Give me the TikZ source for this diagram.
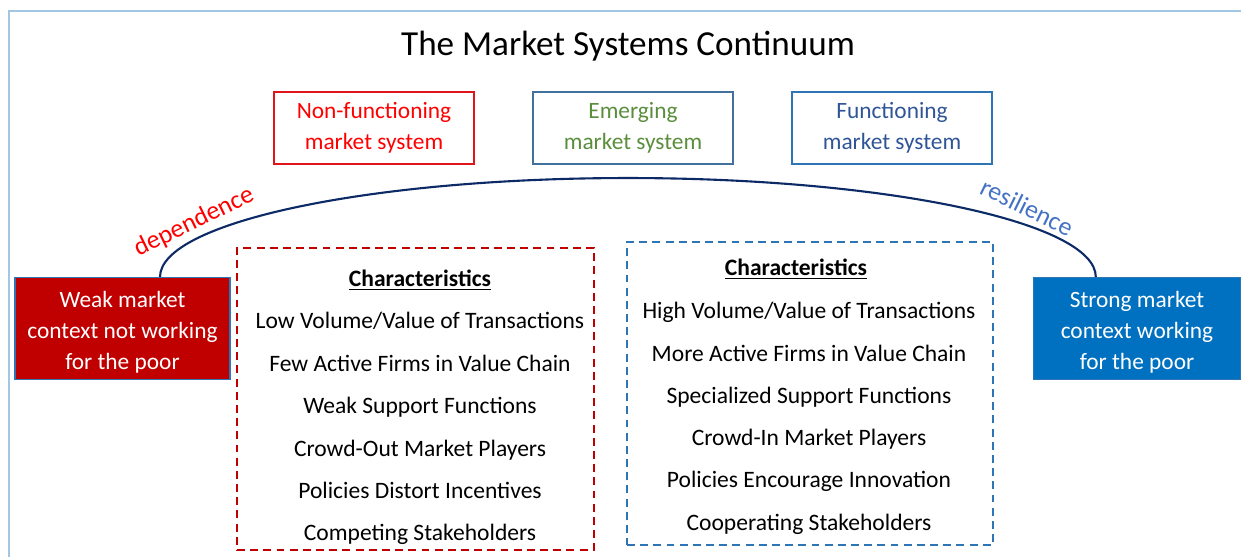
\documentclass[tikz,border=0pt]{standalone}
\usepackage{fontspec}
\setmainfont{Carlito}
\usetikzlibrary{positioning}
\definecolor{framblue}{HTML}{A3C6E3}
\definecolor{nonred}{HTML}{FF0000}
\definecolor{nonborder}{HTML}{E0141B}
\definecolor{emgreen}{HTML}{5A8E3C}
\definecolor{emborder}{HTML}{41719C}
\definecolor{fnblue}{HTML}{2F5597}
\definecolor{fnborder}{HTML}{2E75B6}
\definecolor{arcnavy}{HTML}{0C2A66}
\definecolor{resblue}{HTML}{4472C4}
\definecolor{weakred}{HTML}{C00000}
\definecolor{strongblue}{HTML}{0070C0}
\begin{document}
\begin{tikzpicture}[x=0.02cm,y=-0.02cm,
    stage/.style={draw,line width=0.7pt,minimum width=4cm,minimum height=1.44cm,
      align=center,font=\fontsize{13.3}{17.6}\selectfont},
    context/.style={draw=fnborder,line width=0.6pt,text=white,minimum height=2.02cm,
      align=center,font=\fontsize{13.3}{17.6}\selectfont},
    charbox/.style={draw,dash pattern=on 4.5pt off 3pt,line width=1.1pt},
    item/.style={font=\fontsize{13.4}{15}\selectfont,text height=1.55ex,text depth=0.45ex,yshift=-1.8pt}]
    \useasboundingbox (0,0) rectangle (1241,557);
    \draw[framblue,line width=1.2pt] (9,557) -- (9,11) -- (1241,11);
    \node[font=\fontsize{20}{24}\selectfont] (title) at (628,46) {The Market Systems Continuum};

    % stages of the continuum
    \node[stage,draw=nonborder,text=nonred] (non) at (374,128) {Non-functioning\\market system};
    \node[stage,draw=emborder,text=emgreen] (emg) at (633,128) {Emerging\\market system};
    \node[stage,draw=fnborder,text=fnblue] (fun) at (892,128) {Functioning\\market system};

    % both ends
    \node[context,fill=weakred,minimum width=4.3cm] (weak) at (122.5,328.5) {\rule{0pt}{14pt}Weak market\\context not working\\for the poor};
    \node[context,fill=strongblue,minimum width=4.16cm] (strong) at (1137,328.5) {\rule{0pt}{14pt}Strong market\\context working\\for the poor};

    \coordinate (arcL) at ([xshift=0.75cm]weak.north);
    \draw[arcnavy,line width=1.2pt] (arcL) arc[start angle=180,end angle=0,x radius=9.36cm,y radius=1.98cm];
    \node[nonred,rotate=26,font=\fontsize{14.7}{16}\selectfont] (dep) at (194,222) {dependence};
    \node[resblue,rotate=-26,font=\fontsize{14.7}{16}\selectfont] (res) at (1027,207) {resilience};

    % characteristics, weak side
    \node[charbox,draw=weakred,minimum width=7.14cm,minimum height=6.04cm] (lbox) at (415.5,399) {};
    \node[item] (lhead) at (420,279) {\textbf{\underline{Characteristics}}};
    \node[item] (l1) at (420,321) {Low Volume/Value of Transactions};
    \node[item] (l2) at (420,364) {Few Active Firms in Value Chain};
    \node[item] (l3) at (420,406) {Weak Support Functions};
    \node[item] (l4) at (420,449) {Crowd-Out Market Players};
    \node[item] (l5) at (420,491) {Policies Distort Incentives};
    \node[item] (l6) at (420,533) {Competing Stakeholders};

    % characteristics, strong side
    \node[charbox,draw=fnborder,minimum width=7.32cm,minimum height=6.06cm] (rbox) at (810,393.5) {};
    \node[item] (rhead) at (796,268) {\textbf{\underline{Characteristics}}};
    \node[item] (r1) at (809,311) {High Volume/Value of Transactions};
    \node[item] (r2) at (809,354) {More Active Firms in Value Chain};
    \node[item] (r3) at (809,396) {Specialized Support Functions};
    \node[item] (r4) at (809,438) {Crowd-In Market Players};
    \node[item] (r5) at (809,480) {Policies Encourage Innovation};
    \node[item] (r6) at (809,523) {Cooperating Stakeholders};
\end{tikzpicture}
\end{document}
